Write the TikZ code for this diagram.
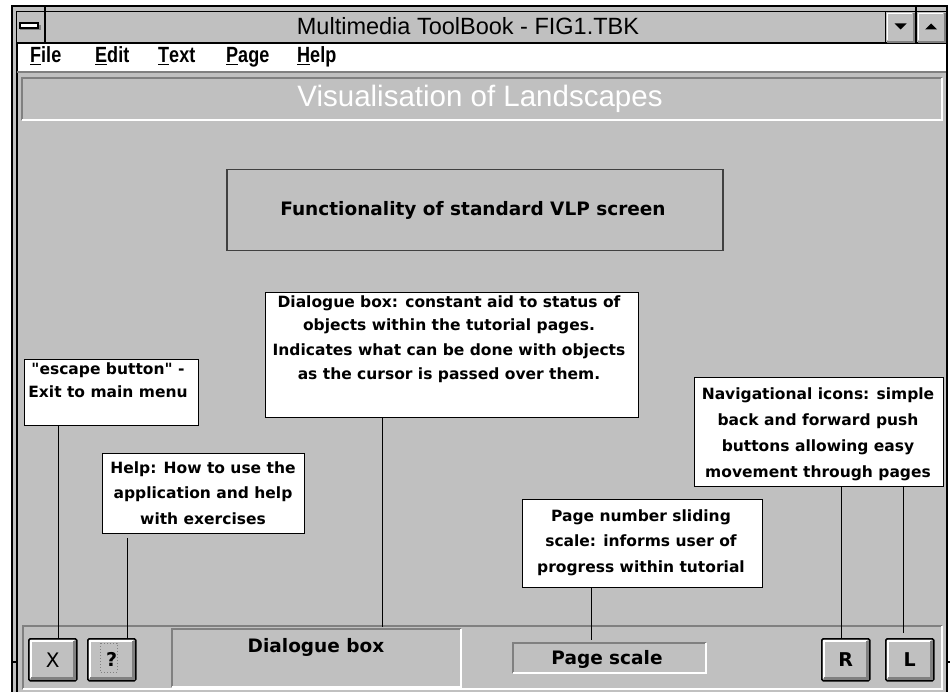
\documentclass[tikz,border=0pt]{standalone}
\usepackage{fontspec}
\newfontfamily\sysfont{Liberation Sans}
\newfontfamily\menufont[FakeStretch=0.82]{Liberation Sans Bold}
\newfontfamily\lblfont{DejaVu Sans}
\usetikzlibrary{calc}
\definecolor{wg}{HTML}{C0C0C0}
\definecolor{dg}{HTML}{808080}
\definecolor{bd}{HTML}{404040}
\newcommand\sunkpanel[4]{%
  \draw[dg, line width=1.5pt] (#1,#4) -- (#1,#2) -- (#3,#2);
  \draw[white, line width=1.5pt] (#3,#2) -- (#3,#4) -- (#1,#4);}
\newcommand\bevelbtn[1]{%
  \draw[white, line width=2pt] ($(#1.south west)+(3,-3.5)$) -- ($(#1.north west)+(3,3)$) -- ($(#1.north east)+(-3.5,3)$);
  \draw[dg, line width=3pt] ($(#1.south west)+(3,-3)$) -- ($(#1.south east)+(-3,-3)$) -- ($(#1.north east)+(-3,3)$);}
\begin{document}
\begin{tikzpicture}[x=1pt,y=-1pt,
  lblbox/.style={draw=black, fill=white, line width=1.4pt, inner sep=0pt, anchor=north west},
  lbltxt/.style={font=\lblfont\bfseries\fontsize{15.5}{25.5}\selectfont, align=center, inner sep=0pt, anchor=base},
  btn/.style={draw=black, line width=1.5pt, fill=wg, inner sep=0pt, anchor=north west, minimum width=48, minimum height=42, rounded corners=1.5pt},
  btntxt/.style={font=\lblfont\bfseries\fontsize{19}{19}\selectfont, inner sep=0pt, anchor=base},
  conn/.style={draw=black, line width=1.2pt},
  menuitem/.style={font=\menufont\fontsize{22}{22}\selectfont, anchor=base west, inner sep=0pt},
  fieldtxt/.style={font=\lblfont\bfseries\fontsize{18.5}{18.5}\selectfont, inner sep=0pt, anchor=base}]
\useasboundingbox (0,0) rectangle (950,692);
\fill[white] (0,0) rectangle (950,692);
% window frame
\fill[wg] (12,6) rectangle (947,700);
\draw[black, line width=1.2pt] (12,700) -- (12,6) -- (947,6) -- (947,700);
\draw[black, line width=1.2pt] (17,700) -- (17,12) -- (946,12);
% title bar
\fill[wg] (17,12) rectangle (946,43);
\draw[black, line width=1.5pt] (17,43) -- (947,43);
\draw[black, line width=1.5pt] (45,6) -- (45,43);
\draw[black, line width=1.5pt] (916,6) -- (916,43);
\draw[black, line width=1.5pt] (885.5,12) -- (885.5,43);
\draw[dg, line width=1.2pt] (21,29.5) rectangle (40,26);
\draw[black, line width=1.3pt, fill=white] (20,23) rectangle (38,28);
% scroll buttons
\node[inner sep=0pt, minimum width=29, minimum height=31, anchor=north west] (dnb) at (886,12) {};
\node[inner sep=0pt, minimum width=29, minimum height=31, anchor=north west] (upb) at (917,12) {};
\draw[white, line width=1.5pt] ($(dnb.south west)+(1.5,-3)$) -- ($(dnb.north west)+(1.5,1.5)$) -- ($(dnb.north east)+(-3,1.5)$);
\draw[dg, line width=2.5pt] ($(dnb.south west)+(1,-1.5)$) -- ($(dnb.south east)+(-1.5,-1.5)$) -- ($(dnb.north east)+(-1.5,1)$);
\draw[white, line width=1.5pt] ($(upb.south west)+(1.5,-3)$) -- ($(upb.north west)+(1.5,1.5)$) -- ($(upb.north east)+(-3,1.5)$);
\draw[dg, line width=2.5pt] ($(upb.south west)+(1,-1.5)$) -- ($(upb.south east)+(-1.5,-1.5)$) -- ($(upb.north east)+(-1.5,1)$);
\fill[black] (894.5,23.5) -- (906.5,23.5) -- (900.5,29.5) -- cycle;
\fill[black] (925,29.5) -- (937,29.5) -- (931,23.5) -- cycle;
\node[font=\sysfont\fontsize{23.5}{23.5}\selectfont, anchor=base, inner sep=0pt] (ttl) at (468,35) {Multimedia ToolBook - FIG1.TBK};
% menu bar
\fill[white] (17.6,43.8) rectangle (946,71);
\draw[dg, line width=2pt] (17,72) -- (946,72);
\node[menuitem] (mfile) at (30,63) {\underline{F}ile};
\node[menuitem] (medit) at (95,63) {\underline{E}dit};
\node[menuitem] (mtext) at (158,63) {\underline{T}ext};
\node[menuitem] (mpage) at (226,63) {\underline{P}age};
\node[menuitem] (mhelp) at (297,63) {\underline{H}elp};
% client area
\fill[wg] (17.6,73) rectangle (945.4,692);
\draw[black, line width=1.2pt] (17,73) -- (17,700);
% header panel
\sunkpanel{22}{78}{942}{120}
\node[font=\sysfont\fontsize{29.5}{29.5}\selectfont, text=white, anchor=base, inner sep=0pt] (vis) at (480,107) {Visualisation of Landscapes};
% functionality box
\node[draw=bd, line width=1.5pt, minimum width=496, minimum height=81, anchor=north west, inner sep=0pt] (func) at (226,169) {};
\node[font=\lblfont\bfseries\fontsize{18.5}{18.5}\selectfont, inner sep=0pt, anchor=base] (functxt) at (473,216) {Functionality of standard VLP screen};
% label boxes
\node[lblbox, minimum width=373, minimum height=125] (dlgd) at (265,292) {};
\node[lbltxt, font=\lblfont\bfseries\fontsize{15.5}{24}\selectfont] (dlgdtxt) at (449,379) {Dialogue box: constant aid to status of\\objects within the tutorial pages.\\Indicates what can be done with objects\\as the cursor is passed over them.};
\node[lblbox, minimum width=174, minimum height=66] (esc) at (24,359) {};
\node[lbltxt, font=\lblfont\bfseries\fontsize{15.5}{23}\selectfont] (esctxt) at (108,397) {"escape button" -\\Exit to main menu};
\node[lblbox, minimum width=202, minimum height=80] (hlp) at (102,453) {};
\node[lbltxt] (hlptxt) at (203,524) {Help: How to use the\\application and help\\with exercises};
\node[lblbox, minimum width=240, minimum height=88] (pgn) at (522,499) {};
\node[lbltxt] (pgntxt) at (641,572) {Page number sliding\\scale: informs user of\\progress within tutorial};
\node[lblbox, minimum width=249, minimum height=109] (nav) at (694,377) {};
\node[lbltxt, font=\lblfont\bfseries\fontsize{15.5}{26}\selectfont] (navtxt) at (818,477) {Navigational icons: simple\\back and forward push\\buttons allowing easy\\movement through pages};
% bottom panel
\sunkpanel{23}{626}{942}{689}
\sunkpanel{172}{629}{461}{687}
\node[fieldtxt] (dlgf) at (316,652) {Dialogue box};
\sunkpanel{513}{643}{706}{673}
\node[fieldtxt] (pgs) at (607,664) {Page scale};
\node[inner sep=0pt, minimum width=193, minimum height=30, anchor=north west] (pgsbox) at (513,643) {};
% buttons
\node[btn] (bx) at (28,638) {};
\bevelbtn{bx}
\node[btntxt, font=\lblfont\fontsize{20}{20}\selectfont] at ($(bx.center)+(0,7.5)$) {X};
\node[btn] (bq) at (87,638) {};
\bevelbtn{bq}
\draw[dg, dotted, line width=1pt] (100,643) rectangle (117,672);
\node[btntxt] at ($(bq.center)+(0,7)$) {?};
\node[btn] (br) at (821,638) {};
\bevelbtn{br}
\node[btntxt] at ($(br.center)+(0,7)$) {R};
\node[btn] (bl) at (885,638) {};
\bevelbtn{bl}
\node[btntxt] at ($(bl.center)+(0,7)$) {L};
% frame ticks
\draw[black, line width=1.5pt] (12,662) -- (17,662);
\draw[black, line width=1.5pt] (947,662) -- (950,662);
% connectors
\draw[conn] ($(esc.south -| bx.north)+(5.5,0)$) -- ($(bx.north)+(5.5,0)$);
\draw[conn] ($(hlp.south -| bq.north)+(16,4)$) -- ($(bq.north)+(16,0)$);
\draw[conn] ($(dlgd.south)+(-69.5,0)$) -- ($(dlgd.south)+(-69.5,209)$);
\draw[conn] ($(pgn.south -| pgsbox.north)+(-18.5,0)$) -- ($(pgsbox.north)+(-18.5,-3)$);
\draw[conn] ($(nav.south -| br.north)+(-4,0)$) -- ($(br.north)+(-4,0)$);
\draw[conn] ($(nav.south -| bl.north)+(-6,0)$) -- ($(bl.north)+(-6,-5)$);
\end{tikzpicture}
\end{document}
